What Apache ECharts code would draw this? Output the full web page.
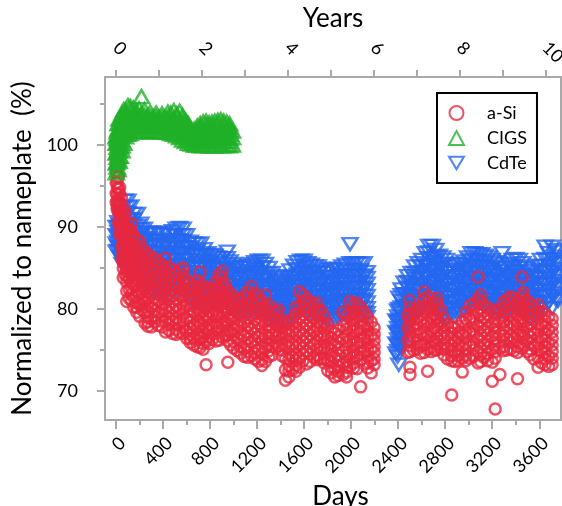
<!DOCTYPE html>
<html>
<head>
<meta charset="utf-8">
<script src="https://cdn.jsdelivr.net/npm/echarts@6/dist/echarts.min.js"></script>
<style>
  html, body { margin: 0; padding: 0; background: #fff; }
  #chart { width: 562px; height: 506px; }
</style>
</head>
<body>
<div id="chart"></div>
<script>
// Each row: [day, value, value, ...]
const aSiRows = [
  [0, 99.6, 98.2, 96.9, 95.4, 94.1, 93.0],
  [10, 97.5, 96.8, 96.0, 95.4, 94.8, 94.0, 93.2, 92.6, 92.1],
  [20, 96.2, 94.6, 93.0, 91.8, 90.6],
  [30, 94.8, 94.0, 93.1, 92.4, 91.7, 91.0, 90.2, 89.6, 89.1],
  [45, 93.6, 92.0, 90.4, 88.9, 87.6, 86.2],
  [60, 92.4, 91.6, 90.9, 90.0, 89.2, 88.6, 87.9, 87.2, 86.4, 85.7, 85.0, 83.8],
  [75, 91.8, 90.1, 88.6, 87.0, 85.5, 84.2],
  [90, 90.6, 89.8, 89.1, 88.2, 87.4, 86.8, 86.1, 85.4, 84.6, 84.0, 83.3, 82.2, 80.9],
  [110, 89.6, 88.0, 86.5, 85.2, 83.8, 82.4, 81.3],
  [130, 90.4, 89.5, 88.7, 87.9, 87.1, 86.3, 85.6, 84.8, 84.1, 83.3, 82.6, 81.8, 81.0],
  [150, 88.9, 87.4, 85.9, 84.4, 82.9, 81.4, 80.2],
  [175, 88.5, 87.6, 86.8, 86.0, 85.2, 84.4, 83.7, 82.9, 82.2, 81.5, 80.8, 80.2, 79.6],
  [200, 88.2, 86.5, 84.8, 83.4, 81.9, 80.5, 79.1],
  [220, 87.4, 86.6, 85.9, 85.1, 84.3, 83.5, 82.7, 82.0, 81.2, 80.5, 79.9],
  [245, 87.0, 85.5, 83.9, 82.5, 81.0, 79.6, 78.3],
  [270, 86.6, 85.8, 85.1, 84.2, 83.4, 82.7, 82.0, 81.2, 80.4, 79.7, 79.0, 78.4, 77.9],
  [300, 86.4, 84.8, 83.2, 81.7, 80.2, 78.8, 77.8],
  [330, 86.0, 85.2, 84.5, 83.7, 82.9, 82.1, 81.3, 80.6, 79.8, 79.1, 78.4],
  [360, 85.7, 84.1, 82.6, 81.0, 79.5, 78.0],
  [390, 85.4, 84.6, 83.9, 83.1, 82.3, 81.5, 80.8, 80.0, 79.3, 78.5, 77.8],
  [420, 86.2, 84.6, 83.0, 81.5, 80.0, 78.5, 77.2],
  [450, 85.1, 84.3, 83.5, 82.7, 81.9, 81.2, 80.4, 79.6, 78.9, 78.1, 77.4],
  [480, 84.7, 83.1, 81.6, 80.1, 78.6, 77.0],
  [510, 84.3, 83.5, 82.8, 82.0, 81.2, 80.4, 79.7, 78.9, 78.2, 77.5, 76.9],
  [540, 84.8, 83.2, 81.7, 80.0, 78.5, 77.1],
  [570, 85.0, 84.2, 83.4, 82.6, 81.8, 81.0, 80.2, 79.4, 78.6, 77.8, 77.0],
  [600, 83.5, 82.0, 80.4, 78.8, 77.3, 76.4],
  [630, 83.1, 82.3, 81.5, 80.7, 79.9, 79.1, 78.4, 77.6, 76.9, 76.4, 75.9],
  [660, 82.8, 81.3, 79.6, 78.0, 76.5, 75.6],
  [690, 83.4, 82.6, 81.8, 81.0, 80.2, 79.4, 78.6, 77.8, 77.0, 76.2, 75.4],
  [715, 84.5, 82.9, 81.2, 79.6, 78.0, 76.4, 75.3],
  [740, 82.9, 82.1, 81.3, 80.5, 79.7, 78.9, 78.1, 77.3, 76.6, 75.8, 75.1],
  [765, 82.4, 80.8, 79.2, 77.6, 76.0, 73.2],
  [790, 82.0, 81.2, 80.5, 79.7, 78.9, 78.1, 77.4, 76.6, 75.8],
  [820, 82.6, 81.0, 79.4, 77.8, 76.3],
  [850, 83.3, 82.5, 81.7, 80.9, 80.1, 79.3, 78.5, 77.8, 77.0, 76.1],
  [875, 84.1, 82.5, 80.9, 79.3, 77.7, 76.2],
  [900, 84.6, 83.8, 83.0, 82.2, 81.4, 80.6, 79.8, 79.0, 78.3, 77.4, 76.6],
  [925, 83.0, 81.4, 79.9, 78.3, 76.8],
  [950, 82.2, 81.4, 80.6, 79.8, 79.0, 78.2, 77.4, 76.8, 76.1, 73.5],
  [975, 81.8, 80.2, 78.7, 77.1, 75.6],
  [1000, 81.5, 80.7, 79.9, 79.1, 78.3, 77.5, 76.8, 76.0, 75.2],
  [1030, 81.2, 79.6, 78.0, 76.4, 74.9],
  [1060, 81.0, 80.2, 79.4, 78.6, 77.8, 77.0, 76.2, 75.4, 74.6],
  [1090, 81.6, 80.0, 78.4, 76.8, 75.2, 74.2],
  [1120, 82.1, 81.3, 80.5, 79.7, 78.9, 78.0, 77.2, 76.4, 75.6, 74.8, 74.1],
  [1150, 82.7, 81.0, 79.3, 77.6, 76.0, 74.3],
  [1180, 81.9, 81.1, 80.3, 79.5, 78.7, 77.8, 77.0, 76.2, 75.4, 74.6, 73.9],
  [1210, 81.4, 79.8, 78.2, 76.6, 75.0, 73.6],
  [1240, 80.9, 80.1, 79.3, 78.5, 77.7, 76.9, 76.1, 75.3, 74.5, 73.8, 73.1],
  [1270, 81.7, 80.1, 78.5, 76.8, 75.2, 73.6],
  [1300, 80.4, 79.6, 78.8, 78.0, 77.3, 76.5, 75.7, 74.9, 74.2],
  [1330, 80.0, 78.4, 76.9, 75.4, 74.4],
  [1360, 79.6, 78.8, 78.1, 77.3, 76.6, 75.9, 75.2],
  [1380, 79.9, 78.3, 76.8, 75.5],
  [1410, 78.6, 77.8, 77.1, 76.4, 75.7, 75.0, 74.3],
  [1440, 78.5, 77.0, 75.5, 74.0, 72.6, 71.3],
  [1470, 78.4, 77.6, 76.9, 76.1, 75.4, 74.6, 73.9, 73.1, 72.4, 71.7],
  [1500, 78.8, 77.2, 75.6, 74.1, 72.6],
  [1530, 80.2, 79.4, 78.6, 77.8, 77.0, 76.2, 75.4, 74.6, 73.8, 73.1, 72.4],
  [1560, 82.1, 80.4, 78.8, 77.2, 75.6, 74.0, 72.9],
  [1590, 81.7, 80.9, 80.1, 79.3, 78.5, 77.7, 76.9, 76.1, 75.3, 74.5, 73.7],
  [1620, 81.2, 79.6, 78.0, 76.4, 74.8, 73.3],
  [1650, 80.9, 80.1, 79.3, 78.5, 77.7, 76.9, 76.1, 75.3, 74.5, 73.6],
  [1680, 80.5, 78.9, 77.3, 75.7, 74.1],
  [1710, 80.7, 79.9, 79.1, 78.3, 77.5, 76.7, 75.9, 75.1, 74.3, 73.8],
  [1740, 79.8, 78.3, 76.7, 75.2, 73.9],
  [1770, 79.1, 78.3, 77.6, 76.8, 76.0, 75.2, 74.5, 73.9, 73.4],
  [1800, 78.2, 76.7, 75.2, 73.7, 72.5],
  [1830, 77.3, 76.5, 75.8, 75.0, 74.3, 73.6, 72.9, 72.2],
  [1860, 77.0, 75.6, 74.1, 72.7, 71.7],
  [1890, 77.4, 76.6, 75.9, 75.1, 74.4, 73.7, 73.0, 72.4, 71.9],
  [1930, 79.6, 78.0, 76.4, 74.8, 73.3, 72.0],
  [1960, 79.2, 78.4, 77.6, 76.8, 76.0, 75.2, 74.4, 73.6, 72.9, 72.3, 71.7],
  [1990, 80.9, 79.3, 77.7, 76.1, 74.5, 73.0],
  [2020, 80.5, 79.7, 78.9, 78.1, 77.3, 76.5, 75.7, 74.9, 74.1, 73.4, 72.8],
  [2050, 80.7, 79.1, 77.5, 75.9, 74.3, 72.7],
  [2080, 80.2, 79.4, 78.6, 77.8, 77.0, 76.2, 75.4, 74.6, 73.8, 70.5],
  [2110, 79.6, 78.0, 76.4, 74.8, 73.3],
  [2140, 79.0, 78.2, 77.4, 76.6, 75.8, 75.0, 74.2, 73.5, 72.8],
  [2170, 78.4, 76.8, 75.2, 73.7, 72.2],
  [2195, 77.7, 76.9, 76.2, 75.4, 74.7, 73.9, 73.2],
  [2480, 79.2, 77.7, 76.2, 74.7],
  [2500, 81.0, 80.2, 79.4, 78.6, 77.9, 77.1, 76.3, 75.5, 74.8, 72.9, 72.0],
  [2530, 79.5, 78.0, 76.5, 75.0],
  [2560, 79.8, 79.0, 78.2, 77.5, 76.7, 75.9, 75.1],
  [2590, 80.2, 78.6, 77.0, 75.5, 74.6],
  [2620, 82.1, 81.2, 80.4, 79.6, 78.8, 78.0, 77.2, 76.4, 75.6, 74.7],
  [2650, 81.5, 79.9, 78.3, 76.7, 75.1, 72.4],
  [2680, 80.7, 79.9, 79.1, 78.3, 77.5, 76.7, 75.9, 75.3, 74.8],
  [2710, 80.9, 79.3, 77.7, 76.1, 75.0],
  [2730, 81.3, 80.5, 79.7, 78.9, 78.1, 77.3, 76.5, 75.7, 75.0],
  [2760, 79.9, 78.3, 76.7, 75.2],
  [2790, 78.8, 78.0, 77.3, 76.5, 75.8, 75.1, 74.4],
  [2820, 78.2, 76.7, 75.2, 73.9],
  [2855, 77.8, 77.1, 76.4, 75.6, 74.9, 74.3, 73.7, 69.5],
  [2880, 77.7, 76.2, 74.8, 73.6],
  [2910, 77.9, 77.1, 76.4, 75.6, 74.9, 74.3, 73.7],
  [2945, 78.5, 77.0, 75.5, 74.0, 72.3],
  [2975, 79.6, 78.8, 78.0, 77.2, 76.5, 75.7, 75.0, 74.3, 73.7],
  [3010, 80.4, 78.8, 77.2, 75.6, 74.0],
  [3040, 80.6, 79.8, 79.0, 78.2, 77.4, 76.6, 75.8, 75.0, 74.2],
  [3080, 83.9, 81.2, 79.6, 78.0, 76.4, 74.8, 73.4],
  [3100, 81.7, 80.9, 80.1, 79.3, 78.5, 77.7, 76.9, 76.1, 75.3, 74.4, 73.6],
  [3130, 80.5, 78.9, 77.3, 75.7, 74.1],
  [3160, 80.1, 79.3, 78.5, 77.7, 76.9, 76.1, 75.3, 74.5, 73.7],
  [3200, 79.9, 78.3, 76.7, 75.1, 73.5, 71.2],
  [3225, 79.6, 78.8, 78.0, 77.2, 76.4, 75.6, 74.8, 74.0, 67.8],
  [3265, 80.0, 78.4, 76.8, 75.2, 72.0],
  [3295, 80.8, 80.0, 79.2, 78.4, 77.6, 76.8, 76.0, 75.4, 74.9],
  [3325, 81.2, 79.6, 78.0, 76.4, 75.0],
  [3355, 81.5, 80.7, 79.9, 79.1, 78.3, 77.5, 76.7, 75.9, 75.1],
  [3385, 81.3, 79.7, 78.1, 76.5, 74.9],
  [3415, 80.9, 80.1, 79.3, 78.5, 77.7, 76.9, 76.1, 75.4, 74.7, 71.5],
  [3455, 83.9, 81.6, 80.0, 78.4, 76.8, 75.2],
  [3465, 82.0, 81.2, 80.4, 79.6, 78.8, 78.0, 77.2, 76.4, 75.6],
  [3495, 81.0, 79.4, 77.8, 76.2, 74.8],
  [3525, 80.6, 79.8, 79.0, 78.2, 77.4, 76.6, 75.8, 75.1, 74.4],
  [3555, 80.3, 78.7, 77.1, 75.5, 73.9],
  [3590, 80.5, 79.7, 78.9, 78.1, 77.3, 76.5, 75.7, 74.9, 74.1, 72.9],
  [3620, 79.7, 78.1, 76.5, 74.9, 73.4],
  [3650, 79.4, 78.6, 77.8, 77.0, 76.2, 75.4, 74.6, 73.9, 73.2],
  [3680, 79.0, 77.4, 75.8, 74.2, 73.0],
  [3710, 78.8, 78.0, 77.2, 76.4, 75.6, 74.8, 74.0, 73.2],
]

const cigsRows = [
  [0, 96.6, 97.8, 99.0, 100.2, 101.0],
  [8, 97.3, 97.9, 98.5, 99.1, 99.7, 100.3, 100.8, 101.2, 101.6],
  [16, 97.0, 98.2, 99.5, 100.7, 101.9, 102.6],
  [25, 98.0, 98.6, 99.3, 99.9, 100.5, 101.1, 101.6, 102.1, 102.6, 103.2],
  [35, 98.6, 99.8, 101.0, 102.1, 103.2],
  [50, 99.3, 99.9, 100.5, 101.1, 101.6, 102.2, 102.7, 103.3, 103.8],
  [65, 100.2, 101.3, 102.4, 103.5, 104.3],
  [80, 101.0, 101.6, 102.1, 102.6, 103.1, 103.7, 104.2],
  [100, 101.3, 102.4, 103.5, 104.8],
  [120, 101.4, 102.0, 102.5, 103.1, 103.6, 104.2, 104.7],
  [145, 101.7, 102.8, 103.8, 104.5],
  [170, 101.6, 102.1, 102.6, 103.1, 103.6, 104.2],
  [195, 101.6, 102.5, 103.5, 104.4],
  [215, 101.7, 102.2, 102.7, 103.2, 103.7, 105.9],
  [240, 101.6, 102.6, 103.6, 104.3],
  [265, 101.7, 102.2, 102.6, 103.1, 103.5],
  [290, 101.6, 102.5, 103.4, 104.0],
  [315, 101.7, 102.2, 102.6, 103.1, 103.5],
  [340, 101.6, 102.5, 103.4, 103.9],
  [365, 101.6, 102.1, 102.5, 103.0, 103.4],
  [390, 101.6, 102.5, 103.3, 103.8],
  [415, 101.6, 102.1, 102.5, 103.0, 103.4],
  [440, 101.5, 102.4, 103.3, 104.0],
  [465, 101.4, 101.9, 102.3, 102.8, 103.2, 103.9],
  [490, 101.3, 102.2, 103.1, 104.2],
  [515, 101.1, 101.6, 102.0, 102.5, 102.9, 103.4, 103.8],
  [540, 100.9, 101.9, 102.9, 104.1],
  [565, 100.6, 101.1, 101.6, 102.1, 102.6, 103.1, 103.6],
  [590, 100.4, 101.3, 102.2, 103.0],
  [615, 100.2, 100.7, 101.1, 101.6, 102.0, 102.6],
  [640, 100.1, 101.0, 101.8],
  [665, 100.0, 100.5, 100.9, 101.4, 101.9],
  [690, 100.0, 100.9, 101.8, 102.3],
  [715, 99.9, 100.4, 100.8, 101.3, 101.8, 102.2, 102.6],
  [740, 99.9, 100.8, 101.8, 102.8],
  [765, 100.0, 100.5, 100.9, 101.4, 101.9, 102.4, 102.9],
  [790, 99.9, 100.9, 101.9, 102.7],
  [815, 99.9, 100.4, 100.8, 101.3, 101.8, 102.3, 102.8],
  [840, 99.9, 100.8, 101.8, 102.9],
  [865, 100.0, 100.5, 101.0, 101.5, 102.0, 102.5, 103.0],
  [890, 99.9, 100.9, 101.9, 103.1],
  [915, 99.9, 100.4, 100.9, 101.4, 101.9, 102.4, 102.9],
  [940, 100.0, 100.9, 101.9, 102.8],
  [965, 99.9, 100.4, 100.8, 101.3, 101.8, 102.2, 102.6],
  [990, 100.0, 100.9, 101.7],
]

const cdteRows = [
  [0, 90.0, 89.0, 88.0, 87.0],
  [15, 90.6, 90.0, 89.4, 88.8, 88.2, 87.6, 87.1],
  [30, 91.5, 90.2, 88.9, 87.6, 86.4],
  [50, 92.4, 91.7, 91.0, 90.3, 89.6, 88.9, 88.2, 87.5, 86.8, 86.1, 85.5],
  [75, 93.2, 91.8, 90.3, 88.8, 87.3, 85.8],
  [100, 93.2, 92.4, 91.7, 90.9, 90.2, 89.4, 88.7, 87.9, 87.2, 86.4, 85.7, 85.0, 84.4],
  [125, 92.5, 91.0, 89.5, 88.0, 86.5, 85.0],
  [150, 91.6, 90.9, 90.2, 89.4, 88.7, 87.9, 87.2, 86.4, 85.7, 85.0, 84.3],
  [180, 91.6, 90.1, 88.6, 87.1, 85.6, 84.1],
  [210, 90.4, 89.7, 89.0, 88.2, 87.5, 86.7, 86.0, 85.3, 84.6, 84.0, 83.4],
  [240, 89.8, 88.4, 86.9, 85.4, 84.0, 83.0],
  [270, 89.3, 88.6, 87.9, 87.1, 86.4, 85.7, 85.0, 84.3, 83.6, 83.1, 82.6],
  [300, 89.3, 87.8, 86.3, 84.8, 83.4, 82.2],
  [330, 89.1, 88.3, 87.6, 86.8, 86.1, 85.3, 84.6, 83.8, 83.1, 82.5, 82.0],
  [360, 89.3, 87.8, 86.3, 84.8, 83.3, 81.9],
  [390, 89.2, 88.4, 87.7, 86.9, 86.2, 85.4, 84.7, 83.9, 83.2, 82.5, 81.8],
  [420, 89.3, 87.8, 86.3, 84.8, 83.3, 81.8],
  [450, 89.0, 88.2, 87.5, 86.7, 86.0, 85.2, 84.5, 83.7, 83.0, 82.3, 81.6],
  [480, 89.5, 88.0, 86.5, 85.0, 83.5, 82.0],
  [510, 89.8, 89.0, 88.3, 87.5, 86.8, 86.0, 85.3, 84.5, 83.8, 83.0, 82.3],
  [540, 89.9, 88.4, 86.9, 85.4, 83.9, 82.4],
  [570, 89.8, 89.0, 88.3, 87.5, 86.8, 86.0, 85.3, 84.5, 83.8, 83.0, 82.2],
  [600, 89.0, 87.5, 86.0, 84.5, 83.0, 81.6],
  [630, 88.2, 87.5, 86.8, 86.0, 85.3, 84.5, 83.8, 83.0, 82.3, 81.6, 81.0],
  [660, 88.0, 86.6, 85.1, 83.6, 82.1, 80.8],
  [690, 87.9, 87.1, 86.4, 85.6, 84.9, 84.1, 83.4, 82.6, 81.9, 81.3, 80.7],
  [720, 88.0, 86.5, 85.0, 83.5, 82.0, 80.6],
  [750, 87.3, 86.6, 85.9, 85.1, 84.4, 83.6, 82.9, 82.2, 81.5, 80.9, 80.4],
  [780, 86.8, 85.4, 83.9, 82.4, 81.0, 80.2],
  [810, 86.6, 85.9, 85.2, 84.4, 83.7, 82.9, 82.2, 81.5, 80.8],
  [840, 86.5, 85.0, 83.5, 82.0, 80.6],
  [870, 86.3, 85.6, 84.9, 84.1, 83.4, 82.6, 81.9, 81.2, 80.5],
  [900, 86.2, 84.8, 83.3, 81.8, 80.4],
  [945, 87.0, 86.2, 85.4, 84.7, 83.9, 83.1, 82.4, 81.6, 80.9],
  [970, 85.8, 84.4, 82.9, 81.5, 80.1],
  [1000, 85.5, 84.8, 84.1, 83.3, 82.6, 81.9, 81.2, 80.5, 79.9],
  [1030, 85.1, 83.7, 82.2, 80.8, 79.6],
  [1060, 85.0, 84.3, 83.6, 82.8, 82.1, 81.4, 80.7, 80.1, 79.5],
  [1090, 85.2, 83.8, 82.3, 80.9, 79.5],
  [1120, 85.3, 84.6, 83.9, 83.1, 82.4, 81.7, 81.0, 80.3, 79.6],
  [1150, 85.5, 84.0, 82.5, 81.1, 79.7],
  [1180, 85.7, 84.9, 84.2, 83.4, 82.7, 81.9, 81.2, 80.4, 79.7],
  [1210, 85.9, 84.4, 82.9, 81.4, 79.8],
  [1240, 85.9, 85.1, 84.4, 83.6, 82.9, 82.1, 81.4, 80.5, 79.6],
  [1270, 85.5, 84.0, 82.5, 81.0, 79.4],
  [1300, 85.0, 84.3, 83.6, 82.8, 82.1, 81.3, 80.6, 79.9, 79.2],
  [1330, 84.4, 83.0, 81.5, 80.0, 78.8],
  [1360, 83.9, 83.2, 82.5, 81.7, 81.0, 80.3, 79.6, 79.1, 78.6],
  [1390, 83.4, 82.0, 80.6, 79.2, 78.4],
  [1420, 83.6, 82.9, 82.2, 81.5, 80.8, 80.1, 79.4, 78.8, 78.3],
  [1450, 84.0, 82.6, 81.1, 79.7, 78.4],
  [1480, 84.7, 83.9, 83.2, 82.4, 81.7, 80.9, 80.2, 79.5, 78.8],
  [1510, 85.3, 83.8, 82.3, 80.8, 79.3],
  [1540, 85.7, 84.9, 84.2, 83.4, 82.7, 81.9, 81.2, 80.4, 79.7],
  [1570, 85.9, 84.4, 82.9, 81.4, 79.9],
  [1600, 85.9, 85.1, 84.4, 83.6, 82.9, 82.1, 81.4, 80.6, 79.9],
  [1630, 85.6, 84.1, 82.6, 81.1, 79.6],
  [1660, 85.4, 84.6, 83.9, 83.1, 82.4, 81.6, 80.9, 80.1, 79.4],
  [1690, 85.2, 83.7, 82.2, 80.7, 79.3],
  [1720, 85.2, 84.4, 83.7, 82.9, 82.2, 81.4, 80.7, 79.9, 79.2],
  [1750, 84.9, 83.4, 82.0, 80.5, 79.0],
  [1780, 84.6, 83.9, 83.2, 82.4, 81.7, 80.9, 80.2, 79.5, 78.8],
  [1800, 84.4, 83.0, 81.5, 80.0, 78.6],
  [1830, 84.7, 83.9, 83.2, 82.4, 81.7, 80.9, 80.2, 79.4, 78.7],
  [1860, 84.9, 83.4, 81.9, 80.4, 78.8],
  [1890, 84.9, 84.1, 83.4, 82.6, 81.9, 81.1, 80.4, 79.6, 78.9],
  [1920, 85.2, 83.7, 82.2, 80.7, 79.1],
  [1950, 85.4, 84.6, 83.9, 83.1, 82.4, 81.6, 80.9, 80.1, 79.3],
  [1990, 87.9, 85.6, 84.1, 82.6, 81.1, 79.5],
  [2020, 85.6, 84.8, 84.1, 83.3, 82.6, 81.8, 81.1, 80.3, 79.6],
  [2050, 85.6, 84.1, 82.6, 81.1, 79.6],
  [2080, 85.5, 84.7, 84.0, 83.2, 82.5, 81.7, 81.0, 80.2, 79.5],
  [2110, 85.6, 84.1, 82.6, 81.1, 79.6],
  [2135, 84.5, 83.8, 83.1, 82.3, 81.6, 80.8, 80.1, 79.5, 79.0],
  [2380, 78.6, 77.2, 75.8, 74.6],
  [2395, 79.8, 79.1, 78.4, 77.7, 77.0, 76.3, 75.6, 74.9, 74.2],
  [2405, 81.4, 80.0, 78.5, 77.0, 75.5, 73.2],
  [2425, 82.4, 81.7, 81.0, 80.2, 79.5, 78.7, 78.0, 77.3, 76.6, 75.9, 75.2],
  [2450, 83.2, 81.8, 80.3, 78.8, 77.3],
  [2480, 84.0, 83.3, 82.6, 81.8, 81.1, 80.3, 79.6, 78.8, 78.1],
  [2510, 84.4, 83.0, 81.5, 80.0, 78.6],
  [2540, 85.2, 84.4, 83.7, 82.9, 82.2, 81.4, 80.7, 79.9, 79.2],
  [2570, 85.6, 84.1, 82.6, 81.1, 79.6],
  [2600, 86.0, 85.2, 84.5, 83.7, 83.0, 82.2, 81.5, 80.7, 80.0],
  [2630, 86.8, 85.3, 83.8, 82.3, 80.8],
  [2660, 87.7, 86.9, 86.2, 85.4, 84.7, 83.9, 83.2, 82.4, 81.7, 80.9, 80.2],
  [2690, 87.7, 86.2, 84.7, 83.2, 81.7, 80.2],
  [2720, 87.2, 86.4, 85.7, 84.9, 84.2, 83.4, 82.7, 81.9, 81.2, 80.5, 79.8],
  [2750, 86.5, 85.0, 83.5, 82.0, 80.5, 79.2],
  [2780, 86.3, 85.5, 84.8, 84.0, 83.3, 82.5, 81.8, 81.0, 80.3, 79.6, 78.9],
  [2810, 86.0, 84.5, 83.0, 81.5, 80.0, 78.7],
  [2840, 85.2, 84.4, 83.7, 82.9, 82.2, 81.4, 80.7, 79.9, 79.2],
  [2870, 85.4, 83.9, 82.4, 80.9, 79.4],
  [2900, 85.5, 84.7, 84.0, 83.2, 82.5, 81.7, 81.0, 80.2, 79.5],
  [2930, 85.5, 84.0, 82.5, 81.0, 79.5],
  [2960, 85.8, 85.0, 84.3, 83.5, 82.8, 82.0, 81.3, 80.5, 79.8],
  [2990, 86.3, 84.8, 83.3, 81.8, 80.3],
  [3020, 86.8, 86.0, 85.3, 84.5, 83.8, 83.0, 82.3, 81.5, 80.8],
  [3050, 86.8, 85.3, 83.8, 82.3, 80.8],
  [3080, 86.7, 85.9, 85.2, 84.4, 83.7, 82.9, 82.2, 81.4, 80.7],
  [3110, 86.7, 85.2, 83.7, 82.2, 80.7],
  [3140, 86.5, 85.7, 85.0, 84.2, 83.5, 82.7, 82.0, 81.2, 80.5],
  [3170, 86.3, 84.8, 83.3, 81.8, 80.3],
  [3200, 86.0, 85.2, 84.5, 83.7, 83.0, 82.2, 81.5, 80.7, 80.0],
  [3230, 85.7, 84.2, 82.7, 81.2, 79.7],
  [3260, 85.5, 84.7, 84.0, 83.2, 82.5, 81.7, 81.0, 80.2, 79.5],
  [3285, 86.8, 85.0, 83.5, 82.0, 80.5],
  [3310, 85.0, 84.2, 83.5, 82.7, 82.0, 81.2, 80.5, 79.8, 79.2],
  [3340, 85.5, 84.0, 82.5, 81.0, 79.6],
  [3370, 86.0, 85.2, 84.5, 83.7, 83.0, 82.2, 81.5, 80.7, 80.0],
  [3400, 86.1, 84.6, 83.1, 81.6, 80.1],
  [3430, 86.0, 85.2, 84.5, 83.7, 83.0, 82.2, 81.5, 80.7, 80.0],
  [3460, 85.6, 84.1, 82.6, 81.1, 79.6],
  [3490, 85.0, 84.2, 83.5, 82.7, 82.0, 81.2, 80.5, 79.8, 79.2],
  [3520, 84.6, 83.1, 81.6, 80.1, 78.9],
  [3550, 84.8, 84.0, 83.3, 82.5, 81.8, 81.0, 80.3, 79.6, 79.0],
  [3580, 85.3, 83.8, 82.3, 80.8, 79.3],
  [3610, 86.0, 85.2, 84.5, 83.7, 83.0, 82.2, 81.5, 80.7, 80.0],
  [3650, 87.6, 86.1, 84.6, 83.1, 81.6, 80.1],
  [3680, 86.8, 86.0, 85.3, 84.5, 83.8, 83.0, 82.3, 81.5, 80.8],
  [3710, 87.6, 86.1, 84.6, 83.1, 81.6, 80.1],
  [3740, 87.2, 86.4, 85.7, 84.9, 84.2, 83.4, 82.7, 81.9, 81.2],
  [3760, 87.0, 85.5, 84.0, 82.5, 81.0],
]

const dayTicks = [0, 400, 800, 1200, 1600, 2000, 2400, 2800, 3200, 3600]
const dayMinorTicks = [200, 600, 1000, 1400, 1800, 2200, 2600, 3000, 3400]
const yearTicks = [0, 1, 2, 3, 4, 5, 6, 7, 8, 9, 10]
const yearLabels = [0, 2, 4, 6, 8, 10]
const valueTicks = [70, 80, 90, 100]
const valueMinorTicks = [75, 85, 95, 105]

const dayMin = -95
const dayMax = 3785
const valueMin = 66.46
const valueMax = 108.29

const RED = '#e9283f'
const GREEN = '#1fb028'
const BLUE = '#2466f0'
const AXIS_GRAY = '#a9a9a9'
const FONT = 'Lato, "Open Sans", sans-serif'

const toPoints = (rows) => {
  const points = []
  rows.forEach(([day, ...values]) => {
    values.forEach((v) => points.push([day, v]))
  })
  return points
}

const plainNumber = (v) => String(v)

const chart = echarts.init(document.getElementById('chart'), null, { renderer: 'canvas' })

const hiddenLine = { show: false, onZero: false }

chart.setOption({
  animation: false,
  backgroundColor: '#fff',
  textStyle: { fontFamily: FONT },
  grid: {
    left: 105,
    right: 1,
    top: 77,
    bottom: 86,
    outerBoundsMode: 'none',
    containLabel: false,
    show: true,
    borderColor: AXIS_GRAY,
    borderWidth: 2,
  },
  legend: {
    data: ['a-Si', 'CIGS', 'CdTe'],
    orient: 'vertical',
    left: 437,
    top: 93,
    padding: [11, 10, 11, 11],
    itemGap: 7,
    itemWidth: 15,
    itemHeight: 14,
    borderColor: '#000',
    borderWidth: 2,
    textStyle: {
      fontFamily: FONT,
      fontSize: 18,
      color: '#000',
      width: 49,
      padding: [0, 0, 0, 18],
    },
  },
  xAxis: [
    {
      // days, bottom
      type: 'value',
      position: 'bottom',
      min: dayMin,
      max: dayMax,
      axisLine: hiddenLine,
      splitLine: { show: false },
      axisTick: {
        customValues: dayTicks,
        length: 9,
        lineStyle: { color: AXIS_GRAY, width: 2 },
      },
      axisLabel: {
        customValues: dayTicks,
        formatter: plainNumber,
        rotate: 45,
        verticalAlign: 'top',
        margin: 14,
        fontSize: 18,
        color: '#000',
        fontFamily: FONT,
      },
      name: 'Days',
      nameLocation: 'middle',
      nameGap: 53,
      nameTextStyle: { fontSize: 26, color: '#000', fontFamily: FONT, padding: [0, 0, 0, 15] },
    },
    {
      // minor day ticks
      type: 'value',
      position: 'bottom',
      min: dayMin,
      max: dayMax,
      axisLine: hiddenLine,
      splitLine: { show: false },
      axisTick: {
        customValues: dayMinorTicks,
        length: 5,
        lineStyle: { color: AXIS_GRAY, width: 2 },
      },
      axisLabel: { show: false },
    },
    {
      // years, top
      type: 'value',
      position: 'top',
      min: dayMin / 365.25,
      max: dayMax / 365.25,
      axisLine: hiddenLine,
      splitLine: { show: false },
      axisTick: {
        customValues: yearTicks,
        length: 7,
        lineStyle: { color: AXIS_GRAY, width: 2 },
      },
      axisLabel: {
        customValues: yearLabels,
        formatter: plainNumber,
        rotate: 45,
        align: 'left',
        margin: 32,
        fontSize: 18,
        color: '#000',
        fontFamily: FONT,
      },
      name: 'Years',
      nameLocation: 'middle',
      nameGap: 36,
      nameTextStyle: { fontSize: 26, color: '#000', fontFamily: FONT },
    },
  ],
  yAxis: [
    {
      type: 'value',
      position: 'left',
      min: valueMin,
      max: valueMax,
      axisLine: hiddenLine,
      splitLine: { show: false },
      axisTick: {
        customValues: valueTicks,
        length: 8,
        lineStyle: { color: AXIS_GRAY, width: 2 },
      },
      axisLabel: {
        customValues: valueTicks,
        margin: 27,
        fontSize: 18,
        color: '#000',
        fontFamily: FONT,
      },
      name: 'Normalized to nameplate  (%)',
      nameLocation: 'middle',
      nameGap: 66,
      nameTextStyle: { fontSize: 26, color: '#000', fontFamily: FONT },
    },
    {
      // minor value ticks
      type: 'value',
      position: 'left',
      min: valueMin,
      max: valueMax,
      axisLine: hiddenLine,
      splitLine: { show: false },
      axisTick: {
        customValues: valueMinorTicks,
        length: 5,
        lineStyle: { color: AXIS_GRAY, width: 2 },
      },
      axisLabel: { show: false },
    },
  ],
  series: [
    {
      name: 'CdTe',
      type: 'scatter',
      xAxisIndex: 0,
      yAxisIndex: 0,
      symbol: 'path://M0,0L20,0L10,17Z',
      symbolSize: [15, 12],
      itemStyle: { color: 'rgba(0,0,0,0)', borderColor: BLUE, borderWidth: 2.5 },
      emphasis: { disabled: true },
      data: toPoints(cdteRows),
    },
    {
      name: 'a-Si',
      type: 'scatter',
      xAxisIndex: 0,
      yAxisIndex: 0,
      symbol: 'circle',
      symbolSize: 11,
      itemStyle: { color: 'rgba(0,0,0,0)', borderColor: RED, borderWidth: 2.5 },
      emphasis: { disabled: true },
      data: toPoints(aSiRows),
    },
    {
      name: 'CIGS',
      type: 'scatter',
      xAxisIndex: 0,
      yAxisIndex: 0,
      symbol: 'triangle',
      symbolSize: [15, 13],
      itemStyle: { color: 'rgba(0,0,0,0)', borderColor: GREEN, borderWidth: 2.5 },
      emphasis: { disabled: true },
      data: toPoints(cigsRows),
    },
  ],
})
</script>
</body>
</html>
